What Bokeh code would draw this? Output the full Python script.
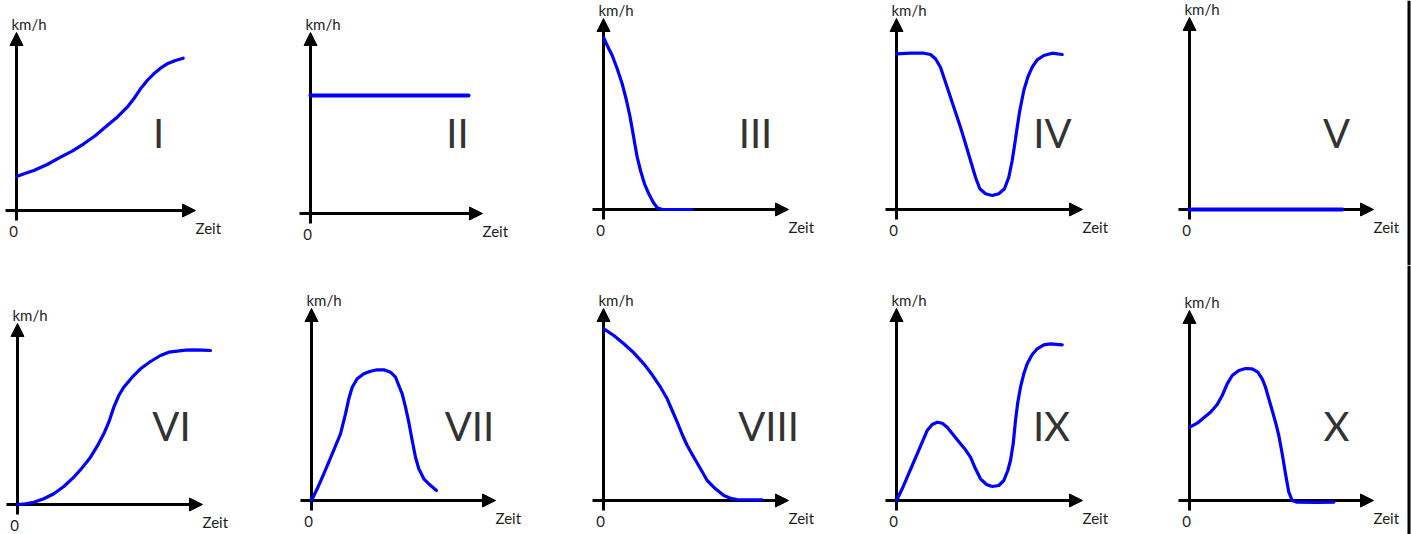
from bokeh.plotting import figure
from bokeh.layouts import column, row
from bokeh.models import Range1d, Arrow, NormalHead, Label, Span
from bokeh.embed import file_html
from bokeh.resources import INLINE

# ---------------- data (t = Zeit, v = km/h, arbitrary units) -------------
numerals = ["I", "II", "III", "IV", "V", "VI", "VII", "VIII", "IX", "X"]
y_label = "km/h"
x_label = "Zeit"
origin_label = "0"

t_I = [0, 9, 17.3, 30.7, 44, 55.7, 67.3, 79, 90.7, 100.7, 110.7, 117.3, 124, 130.7, 137.3, 144, 150.7, 159, 166.7]
v_I = [34, 37.3, 40, 46, 53.3, 59.3, 66.7, 75, 85, 93.3, 103.3, 111.7, 121.7, 130, 136.7, 142.3, 146.7, 150, 152.3]

t_II = [0, 158]
v_II = [118, 118]

t_III = [0.3, 3.7, 8.7, 13.7, 18.7, 23, 26.3, 29, 31.3, 33.7, 37, 41, 45.3, 49.7, 53.7, 58.7, 88.7]
v_III = [171.7, 164, 154, 140.7, 125.7, 109, 94, 79, 65.7, 52.3, 39, 25.7, 15.7, 7.3, 1.7, 0, 0]

t_IV = [0, 14, 27.3, 34, 39, 44, 49, 54, 59, 64, 69, 74, 79, 83.3, 89, 95.7, 102.3, 108, 112.3,
        115.7, 118.3, 120.7, 123.3, 127.3, 131.3, 135.7, 140.7, 147.3, 155.7, 165.7]
v_IV = [155.7, 156.3, 156.3, 155, 150.7, 142.3, 127.3, 112.3, 97.3, 82.3, 65.7, 49, 32.3, 20.7, 15.7, 14, 15.7, 20.7, 32.3,
        49, 65.7, 82.3, 99, 119, 132.3, 142.3, 149.7, 154, 156.3, 155]

t_V = [0, 153]
v_V = [0, 0]

t_VI = [0, 8, 16.3, 26.3, 36.3, 46.3, 56.3, 64.7, 73, 79.7, 86.3, 91.3, 96.3, 101.3, 106.3, 114.7,
        123, 133, 143, 151.3, 159.7, 168, 176.3, 184.7, 193]
v_VI = [0, 0.7, 2.3, 5.7, 10.7, 18, 27.3, 36.7, 47.3, 58.3, 70.7, 82.3, 97.3, 109, 117.3, 127.3,
        135.7, 143, 149, 152.3, 153.3, 154.3, 154.7, 154.3, 154]

t_VII = [0, 5.7, 12.3, 20.7, 29, 34, 37.3, 40.7, 45.7, 52.3, 59, 65.7, 72.3, 79, 84, 87.3, 90.7, 94,
         97.3, 100.7, 104, 107.3, 112.3, 118.3, 125]
v_VII = [0, 11.7, 26.7, 46.7, 66.7, 86.7, 101.7, 113.3, 121.7, 126.7, 129.3, 130.7, 130.7, 128.3, 123.3, 115, 106.7, 93.3,
         78.3, 60, 43.3, 31.7, 21.7, 15.7, 10]

t_VIII = [0.3, 10.3, 20.3, 30.3, 40.3, 48.7, 57, 63.7, 68.7, 73.7, 78.7, 83.7, 90.3, 97, 103.7, 112, 120.3, 127, 133.7, 147, 158.7]
v_VIII = [171.7, 165, 156.7, 147.7, 136.7, 125.7, 113.3, 101.7, 90, 78.3, 66, 55, 43.3, 31.7, 20, 11.7, 5, 2.3, 1, 0.7, 0.7]

t_IX = [0, 5.7, 10.7, 15.7, 20.7, 25.7, 30.7, 35.7, 40.7, 45.7, 50.7, 57.3, 64, 69, 74, 79, 84, 90, 95.7,
        102.3, 107.3, 111.3, 114, 116.7, 119, 121.3, 124, 127.3, 130.7, 135.7, 140.7, 147.3, 154, 165.7]
v_IX = [0, 11.7, 23.3, 35, 46.7, 58.3, 70, 76, 78.3, 77.3, 73.3, 65, 56.7, 50.7, 43.3, 31.7, 21.7, 16, 14,
        15, 20, 30, 40, 56.7, 80, 98.3, 113.3, 126.7, 136.7, 146, 151.7, 155.7, 156.7, 155.7]

t_X = [0.3, 7.7, 14.3, 21, 27.7, 32.7, 37.7, 42.7, 49.3, 56, 62.7, 68.3, 72.7, 76, 79.3, 82.7, 86, 89.3,
       92.7, 96, 99.3, 102.7, 107.7, 127.7, 144.3]
v_X = [73.3, 77.3, 82.7, 88.3, 96, 105, 116.7, 125, 130, 132, 131.7, 128.3, 121.7, 113.3, 101.7, 90, 78.3, 65,
       46.7, 26.7, 8.3, 0, -1.7, -2, -1.7]

series_t = [t_I, t_II, t_III, t_IV, t_V, t_VI, t_VII, t_VIII, t_IX, t_X]
series_v = [v_I, v_II, v_III, v_IV, v_V, v_VI, v_VII, v_VIII, v_IX, v_X]

# ---------------- layout (page pixel positions, styles) ----------------
COL_X = [0, 295, 588, 880, 1172]
COL_W = [295, 293, 292, 292, 239]
ROW_Y = [0, 265]
ROW_H = [265, 269]
EDGE_X = 1408.5  # dark frame line at the right edge

# origin of each panel (page px), axis lengths, numeral centre/baseline offsets, curve width
PANELS = [
    dict(ox=16, oy=210, lx=179, ly=178, nx=142, ny=60, lw=3.2),
    dict(ox=310, oy=213, lx=172, ly=181, nx=147, ny=63, lw=4.0),
    dict(ox=603, oy=209, lx=185, ly=191, nx=152, ny=59, lw=3.2),
    dict(ox=896, oy=209, lx=186, ly=191, nx=156, ny=59, lw=3.2),
    dict(ox=1189, oy=209, lx=184, ly=192, nx=147, ny=59, lw=4.0),
    dict(ox=17, oy=504, lx=185, ly=181, nx=154, ny=61, lw=3.2),
    dict(ox=311, oy=500, lx=184, ly=192, nx=158, ny=57, lw=3.2),
    dict(ox=603, oy=500, lx=185, ly=192, nx=165, ny=57, lw=3.2),
    dict(ox=896, oy=500, lx=186, ly=192, nx=155, ny=57, lw=3.2),
    dict(ox=1189, oy=500, lx=184, ly=190, nx=147, ny=57, lw=3.2),
]

BLUE = "#0000FF"
AXIS = "#000000"
TEXT = "#1e1e1e"
NUM = "#333333"
FONT = "Lato"
SMALL, BIG = 15, 40
SHIFT = 0.43  # measured rendering offset of the alphabetic baseline, in em

rows = []
for r in range(2):
    figs = []
    for c in range(5):
        k = r * 5 + c
        P = PANELS[k]
        fx, fy, W, H = COL_X[c], ROW_Y[r], COL_W[c], ROW_H[r]
        ox, oy = P["ox"], P["oy"]
        p = figure(width=W, height=H,
                   x_range=Range1d(fx - ox, fx + W - ox),
                   y_range=Range1d(oy - (fy + H), oy - fy),
                   x_axis_type=None, y_axis_type=None,
                   toolbar_location=None, tools="",
                   output_backend="svg", min_border=0)
        p.outline_line_color = None
        p.background_fill_color = "white"
        p.border_fill_color = "white"

        head = dict(size=13, fill_color=AXIS, line_color=AXIS, line_width=1)
        p.add_layout(Arrow(end=NormalHead(**head), x_start=0, y_start=-10,
                           x_end=0, y_end=P["ly"], line_width=3,
                           line_color=AXIS, level="underlay"))
        p.add_layout(Arrow(end=NormalHead(**head), x_start=-11, y_start=0,
                           x_end=P["lx"], y_end=0, line_width=3,
                           line_color=AXIS, level="underlay"))

        p.line(series_t[k], series_v[k], line_color=BLUE, line_width=P["lw"],
               line_join="round", line_cap="round")

        ds = SHIFT * SMALL
        db = SHIFT * BIG
        # axis texts (baselines in page px, converted to local units)
        base_top = max(oy - P["ly"] - 2, fy + 15)
        p.add_layout(Label(x=-5, y=oy - base_top + ds, text=y_label,
                           text_font=FONT, text_font_size=f"{SMALL}px",
                           text_color=TEXT, text_align="left",
                           text_baseline="alphabetic"))
        base0 = oy + 27
        p.add_layout(Label(x=-3, y=oy - base0 + ds, text=origin_label,
                           text_font=FONT, text_font_size=f"{SMALL}px",
                           text_color=TEXT, text_align="center",
                           text_baseline="alphabetic"))
        baseZ = oy + 24
        p.add_layout(Label(x=P["lx"], y=oy - baseZ + ds, text=x_label,
                           text_font=FONT, text_font_size=f"{SMALL}px",
                           text_color=TEXT, text_align="left",
                           text_baseline="alphabetic"))
        p.add_layout(Label(x=P["nx"], y=P["ny"] + db, text=numerals[k],
                           text_font=FONT, text_font_size=f"{BIG}px",
                           text_color=NUM, text_align="center",
                           text_baseline="alphabetic"))
        if c == 4:
            p.add_layout(Span(location=EDGE_X - ox, dimension="height",
                              line_color=AXIS, line_width=3))
        figs.append(p)
    rows.append(row(*figs, spacing=0))

layout = column(*rows, spacing=0)
open("out.html", "w").write(file_html(layout, INLINE))
